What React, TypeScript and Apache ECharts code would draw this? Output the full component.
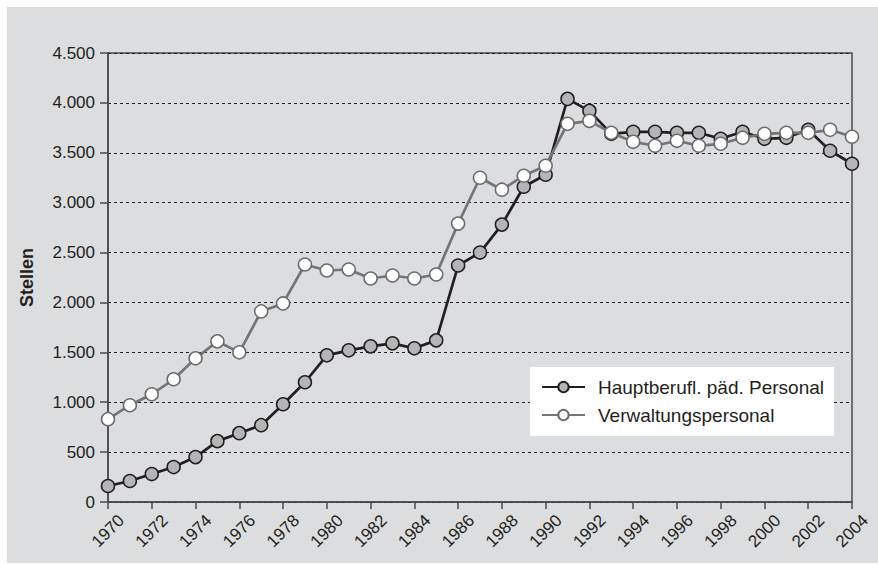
import React, { useEffect, useRef } from "react";
import * as echarts from "echarts";

const years: string[] = [
  "1970","1971","1972","1973","1974","1975","1976","1977","1978","1979",
  "1980","1981","1982","1983","1984","1985","1986","1987","1988","1989",
  "1990","1991","1992","1993","1994","1995","1996","1997","1998","1999",
  "2000","2001","2002","2003","2004",
];

const hauptPersonal: number[] = [
  160, 210, 280, 350, 450, 610, 690, 770, 980, 1200,
  1470, 1520, 1560, 1590, 1540, 1620, 2370, 2500, 2780, 3160,
  3280, 4040, 3920, 3690, 3710, 3710, 3700, 3700, 3640, 3710,
  3640, 3650, 3730, 3520, 3390,
];

const verwaltung: number[] = [
  830, 970, 1080, 1230, 1440, 1610, 1500, 1910, 1990, 2380,
  2320, 2330, 2240, 2270, 2240, 2280, 2790, 3250, 3130, 3270,
  3370, 3790, 3820, 3700, 3610, 3570, 3620, 3570, 3590, 3650,
  3690, 3700, 3700, 3730, 3660,
];

const seriesNames = ["Hauptberufl. päd. Personal", "Verwaltungspersonal"];
const yAxisName = "Stellen";

const FONT = "'Liberation Sans', Arial, sans-serif";
const TXT = "#231f20";

export default function App() {
  const ref = useRef<HTMLDivElement>(null);
  useEffect(() => {
    if (!ref.current) return;
    const chart = echarts.init(ref.current, undefined, { renderer: "svg" });
    chart.setOption({
      animation: false,
      backgroundColor: "#ffffff",
      graphic: [
        {
          type: "rect",
          z: -10,
          silent: true,
          shape: { x: 7, y: 7, width: 871, height: 556 },
          style: { fill: "#dcdddf" },
        },
      ],
      grid: {
        left: 108,
        right: 26,
        top: 53,
        bottom: 62,
        show: true,
        backgroundColor: "transparent",
        borderColor: "#4a4a4c",
        borderWidth: 1.5,
      },
      legend: {
        orient: "vertical",
        left: 530,
        top: 367,
        backgroundColor: "#ffffff",
        padding: [9, 10, 10, 11],
        itemWidth: 43,
        itemHeight: 13,
        itemGap: 6,
        textStyle: {
          fontFamily: FONT,
          fontSize: 19,
          lineHeight: 22,
          color: TXT,
          padding: [0, 0, 0, 8],
        },
        data: seriesNames,
      },
      xAxis: {
        type: "category",
        data: years,
        boundaryGap: false,
        axisLine: { lineStyle: { color: "#4a4a4c", width: 1.5 } },
        axisTick: { interval: 1, length: 7, lineStyle: { color: "#4a4a4c", width: 1.5 } },
        axisLabel: {
          interval: 1,
          rotate: 45,
          margin: 29,
          align: "center",
          verticalAlign: "middle",
          fontFamily: FONT,
          fontSize: 17,
          color: TXT,
        },
        splitLine: { show: false },
      },
      yAxis: {
        type: "value",
        min: 0,
        max: 4500,
        interval: 500,
        name: yAxisName,
        nameLocation: "middle",
        nameGap: 72,
        nameTextStyle: { fontFamily: FONT, fontSize: 18, fontWeight: "bold", color: TXT },
        axisLine: { show: true, lineStyle: { color: "#4a4a4c", width: 1.5 } },
        axisTick: { show: true, length: 8, lineStyle: { color: "#4a4a4c", width: 1.5 } },
        axisLabel: {
          margin: 13,
          fontFamily: FONT,
          fontSize: 17,
          color: TXT,
          formatter: (v: number) => {
            if (v < 1000) return String(v);
            const t = Math.floor(v / 1000);
            const r = String(v % 1000).padStart(3, "0");
            return t + "." + r;
          },
        },
        splitLine: { show: true, lineStyle: { color: "#231f20", type: [3, 3], width: 1 } },
      },
      series: [
        {
          name: seriesNames[0],
          type: "line",
          data: hauptPersonal,
          symbol: "circle",
          symbolSize: 13,
          lineStyle: { color: "#231f20", width: 2.7 },
          itemStyle: { color: "#b4b5b7", borderColor: "#231f20", borderWidth: 1.5 },
          z: 2,
        },
        {
          name: seriesNames[1],
          type: "line",
          data: verwaltung,
          symbol: "circle",
          symbolSize: 13,
          lineStyle: { color: "#747577", width: 2.7 },
          itemStyle: { color: "#ffffff", borderColor: "#6a6b6d", borderWidth: 1.5 },
          z: 3,
        },
      ],
    });
    return () => chart.dispose();
  }, []);
  return (
    <div
      ref={ref}
      style={{ position: "fixed", left: 0, top: 0, width: 878, height: 564 }}
    />
  );
}
